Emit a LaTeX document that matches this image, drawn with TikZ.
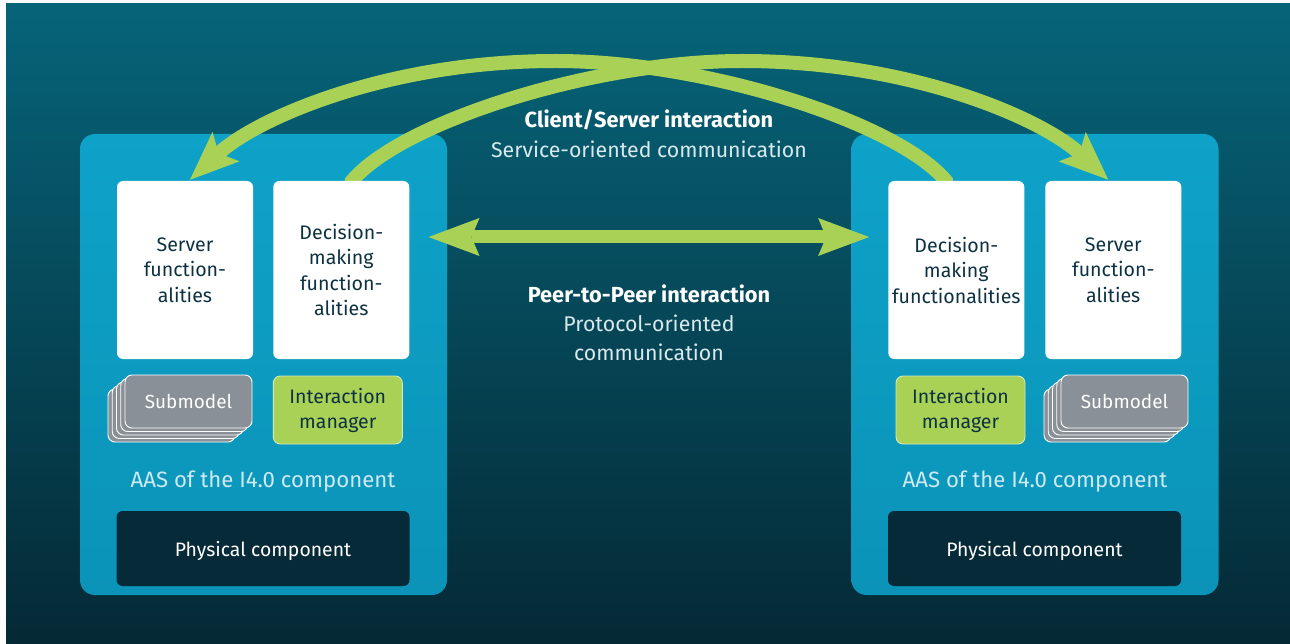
\documentclass[tikz,border=0pt]{standalone}
\usepackage{fontspec}
\setmainfont{Fira Sans}
\usetikzlibrary{arrows.meta,calc}
\definecolor{bgtop}{HTML}{066479}
\definecolor{bgmid}{HTML}{03475A}
\definecolor{bgbot}{HTML}{052935}
\definecolor{aastop}{HTML}{0EA2C8}
\definecolor{aasbot}{HTML}{0B93B8}
\definecolor{navy}{HTML}{0D3140}
\definecolor{lgreen}{HTML}{A9D156}
\definecolor{subgray}{HTML}{8A9097}
\definecolor{physdark}{HTML}{062A38}
\definecolor{lbl}{HTML}{CDE9F2}
\definecolor{ctxt}{HTML}{D9E9EE}
\pgfdeclarelayer{bg}
\pgfdeclarelayer{arcs}
\pgfsetlayers{bg,arcs,main}
\tikzset{
  aas/.style={minimum width=367pt, minimum height=461pt, rounded corners=15pt,
    top color=aastop, bottom color=aasbot, draw=none, inner sep=0pt},
  wbox/.style={fill=white, rounded corners=6pt, minimum width=136pt, minimum height=178pt,
    text=navy, align=center, inner sep=0pt, font=\fontsize{19.6}{25.5}\selectfont},
  subcard/.style={fill=subgray, draw=white, line width=0.9pt, rounded corners=7pt,
    minimum width=127pt, minimum height=53pt, inner sep=0pt, text=white,
    font=\fontsize{19}{24}\selectfont},
  imbox/.style={fill=lgreen, draw=white!55!lgreen, line width=0.9pt, rounded corners=7pt,
    minimum width=129pt, minimum height=68pt, inner sep=0pt, text=navy, align=center,
    font=\fontsize{19.5}{25}\selectfont},
  physbox/.style={fill=physdark, rounded corners=6pt, minimum width=293pt, minimum height=75pt,
    inner sep=0pt, text=white, text depth=0pt, font=\fontsize{19.4}{24}\selectfont},
  aaslabel/.style={text=lbl, inner sep=0pt, font=\fontsize{22.2}{26}\selectfont},
  ctitle/.style={text=white, inner sep=0pt, font=\bfseries\fontsize{21.8}{29}\selectfont},
  csub/.style={text=ctxt, inner sep=0pt, align=center, font=\fontsize{21.3}{29}\selectfont},
  garc/.style={draw=lgreen, line width=14pt,
    -{Stealth[length=49pt,width=40pt,inset=10pt,line width=0pt]}},
  gdouble/.style={draw=lgreen, line width=13pt,
    {Stealth[length=51pt,width=38pt,inset=8pt,line width=0pt]}-{Stealth[length=51pt,width=38pt,inset=8pt,line width=0pt]}},
}
\begin{document}
\begin{tikzpicture}[x=1pt,y=-1pt]
\useasboundingbox (0,0) rectangle (1290,644);
\begin{pgfonlayer}{bg}
\fill[white] (0,0) rectangle (1290,644);
\shade[top color=bgtop, middle color=bgmid, bottom color=bgbot] (6,4) rectangle (1290,644);
\node[aas] (aasL) at (263.5,364.5) {};
\node[aas] (aasR) at (1035,364.5) {};
\end{pgfonlayer}

% white function boxes
\node[wbox] (srvL) at (185,270) {Server\\function-\\alities};
\node[wbox] (decL) at (341.3,270) {Decision-\\making\\function-\\alities};
\node[wbox] (decR) at (956.3,270) {Decision-\\making\\functionalities};
\node[wbox] (srvR) at (1113.3,270) {Server\\function-\\alities};

% arcs (client/server)
\coordinate (a1s) at ([xshift=11pt,yshift=-12pt]decL.north);
\coordinate (a1t) at (742,61);
\coordinate (a1e) at ([xshift=-5pt,yshift=1pt]srvR.north);
\coordinate (a2s) at ([xshift=-10pt,yshift=-12pt]decR.north);
\coordinate (a2t) at (556,61);
\coordinate (a2e) at ([xshift=5pt,yshift=1pt]srvL.north);
\begin{pgfonlayer}{arcs}
\draw[garc] (a1s) -- (352,181) .. controls (400,123) and (592,61) .. (a1t)
   .. controls (912,61) and (1042,119) .. (a1e);
\draw[garc] (a2s) -- (946,181) .. controls (898,123) and (706,61) .. (a2t)
   .. controls (386,61) and (256,119) .. (a2e);
\end{pgfonlayer}

% peer-to-peer arrow
\coordinate (hL) at ([xshift=19pt]decL.east |- 0,237);
\coordinate (hR) at ([xshift=-19pt]decR.west |- 0,237);
\draw[gdouble] (hL) -- (hR);

% submodel stacks
\foreach \k in {4,3,2,1} \node[subcard] (subL\k) at (188.5-4.25*\k, 401.5+3.5*\k) {};
\node[subcard] (subL) at (188.5,401.5) {Submodel};
\foreach \k in {4,3,2,1} \node[subcard] (subR\k) at (1124.5-4.25*\k, 401.5+3.5*\k) {};
\node[subcard] (subR) at (1124.5,401.5) {Submodel};

% interaction managers
\node[imbox] (imL) at (337.8,410) {Interaction\\manager};
\node[imbox] (imR) at (960.5,410) {Interaction\\manager};

% labels
\node[aaslabel] (lblL) at (263,482) {AAS of the I4.0 component};
\node[aaslabel] (lblR) at (1035,482) {AAS of the I4.0 component};

% physical components
\node[physbox] (physL) at (263,548.5) {Physical component};
\node[physbox] (physR) at (1034.5,548.5) {Physical component};

% center texts
\node[ctitle] (cs) at (649,120) {Client/Server interaction};
\node[csub] (so) at (649,149.5) {Service-oriented communication};
\node[ctitle] (pp) at (649,294) {Peer-to-Peer interaction};
\node[csub] (po) at (649,338) {Protocol-oriented\\communication};
\end{tikzpicture}
\end{document}
